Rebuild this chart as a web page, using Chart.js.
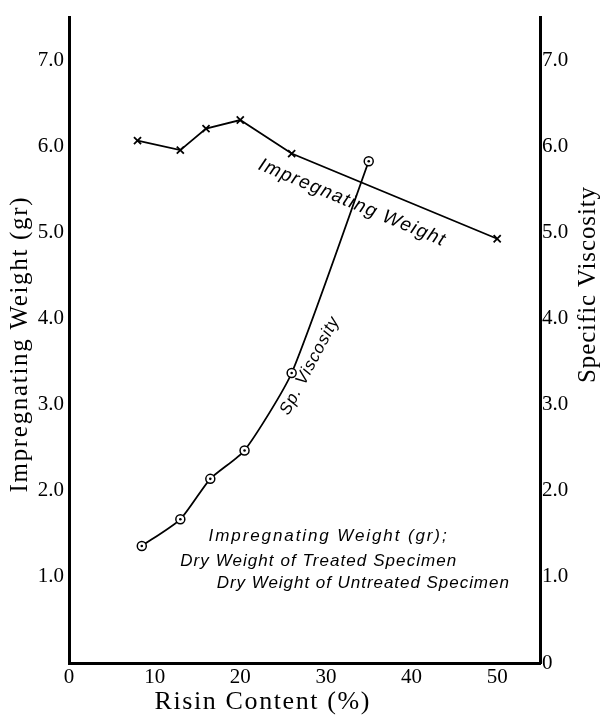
<!DOCTYPE html>
<html>
<head>
<meta charset="utf-8">
<script src="https://cdn.jsdelivr.net/npm/chart.js@4.4.1/dist/chart.umd.min.js"></script>
<style>
  html, body { margin: 0; padding: 0; background: #fff; }
  #wrap { width: 600px; height: 718px; }
</style>
</head>
<body>
<div id="wrap"><canvas id="c" width="600" height="718"></canvas></div>
<script>
/* Impregnating weight & specific viscosity vs risin content */

// x values (risin content, %) and readings
const weightX = [8, 13, 16, 20, 26, 50];
const weightY = [6.07, 5.96, 6.21, 6.31, 5.92, 4.93];
const viscX = [8.5, 13, 16.5, 20.5, 26, 35];
const viscY = [1.36, 1.67, 2.14, 2.47, 3.37, 5.83];

const xTicks = [0, 10, 20, 30, 40, 50];
const yTicks = [0, 1, 2, 3, 4, 5, 6, 7];

const SERIF = '"Liberation Serif", "DejaVu Serif", serif';
const HAND = '"Liberation Sans", "DejaVu Sans", sans-serif';

const zip = (xs, ys) => xs.map((x, i) => ({ x, y: ys[i] }));

// draw text stretched to a given width (letter spacing), rotated about its centre
function drawFit(ctx, txt, cx, cy, ang, w, font) {
  ctx.save();
  ctx.font = font;
  ctx.letterSpacing = '0px';
  const nat = ctx.measureText(txt).width;
  const ls = (w - nat) / Math.max(1, txt.length - 1);
  ctx.letterSpacing = ls.toFixed(2) + 'px';
  ctx.translate(cx, cy);
  ctx.rotate(ang * Math.PI / 180);
  ctx.textAlign = 'left';
  ctx.textBaseline = 'middle';
  ctx.fillStyle = '#000';
  ctx.fillText(txt, -w / 2, 0);
  ctx.restore();
}

const notes = {
  id: 'notes',
  afterDatasetsDraw(chart) {
    const ctx = chart.ctx, xs = chart.scales.x, ys = chart.scales.y;
    // dot inside each viscosity circle
    chart.getDatasetMeta(1).data.forEach(p => {
      ctx.beginPath();
      ctx.arc(p.x, p.y, 1.3, 0, Math.PI * 2);
      ctx.fillStyle = '#000';
      ctx.fill();
    });
    const at = (x, y) => [xs.getPixelForValue(x), ys.getPixelForValue(y)];
    let p;
    p = at(33.0, 5.35);
    drawFit(ctx, 'Impregnating Weight', p[0], p[1], 22.6, 200, 'italic 19px ' + HAND);
    p = at(28.1, 3.45);
    drawFit(ctx, 'Sp. Viscosity', p[0], p[1], -62, 108, 'italic 17px ' + HAND);
    p = at(30.2, 1.47);
    drawFit(ctx, 'Impregnating Weight (gr);', p[0], p[1], 0, 238, 'italic 17px ' + HAND);
    p = at(29.1, 1.18);
    drawFit(ctx, 'Dry Weight of Treated Specimen', p[0], p[1], 0, 276, 'italic 17px ' + HAND);
    p = at(34.3, 0.93);
    drawFit(ctx, 'Dry Weight of Untreated Specimen', p[0], p[1], 0, 292, 'italic 17px ' + HAND);

    // axis titles
    drawFit(ctx, 'Impregnating Weight (gr)', 20, 345, -90, 295, '25px ' + SERIF);
    drawFit(ctx, 'Specific Viscosity', 588, 285, -90, 196, '25px ' + SERIF);
    drawFit(ctx, 'Risin Content (%)', 262, 702, 0, 215, '26px ' + SERIF);
  }
};

const tickFont = { family: SERIF, size: 21 };
const axisBorder = { display: true, color: '#000', width: 3 };

new Chart(document.getElementById('c'), {
  type: 'scatter',
  data: {
    datasets: [
      {
        label: 'Impregnating Weight',
        data: zip(weightX, weightY),
        showLine: true,
        borderColor: '#000',
        borderWidth: 1.8,
        pointStyle: 'crossRot',
        pointRadius: 5,
        pointBorderWidth: 1.8,
        pointBorderColor: '#000',
        tension: 0,
        yAxisID: 'y'
      },
      {
        label: 'Sp. Viscosity',
        data: zip(viscX, viscY),
        showLine: true,
        borderColor: '#000',
        borderWidth: 1.8,
        pointStyle: 'circle',
        pointRadius: 4.5,
        pointBorderWidth: 1.5,
        pointBorderColor: '#000',
        pointBackgroundColor: '#fff',
        tension: 0.2,
        yAxisID: 'y2'
      }
    ]
  },
  options: {
    responsive: false,
    animation: false,
    layout: { padding: { top: 8, left: 0, right: 0, bottom: 0 } },
    plugins: { legend: { display: false }, tooltip: { enabled: false } },
    scales: {
      x: {
        type: 'linear', min: 0, max: 55,
        afterBuildTicks: s => { s.ticks = xTicks.map(v => ({ value: v })); },
        ticks: { color: '#000', font: tickFont, padding: 2, maxRotation: 0, autoSkip: false },
        grid: { display: false, drawTicks: false },
        border: axisBorder,
        afterFit: s => { s.height = 55; }
      },
      y: {
        position: 'left', min: 0, max: 7.5,
        afterBuildTicks: s => { s.ticks = yTicks.map(v => ({ value: v })); },
        ticks: { color: '#000', font: tickFont, padding: 5, autoSkip: false,
                 callback: v => v === 0 ? '' : v.toFixed(1) },
        grid: { display: false, drawTicks: false },
        border: axisBorder,
        afterFit: s => { s.width = 69; }
      },
      y2: {
        position: 'right', min: 0, max: 7.5,
        afterBuildTicks: s => { s.ticks = yTicks.map(v => ({ value: v })); },
        ticks: { color: '#000', font: tickFont, padding: 2, autoSkip: false,
                 callback: v => v === 0 ? '0' : v.toFixed(1) },
        grid: { display: false, drawTicks: false },
        border: axisBorder,
        afterFit: s => { s.width = 60; }
      }
    }
  },
  plugins: [notes]
});
</script>
</body>
</html>
